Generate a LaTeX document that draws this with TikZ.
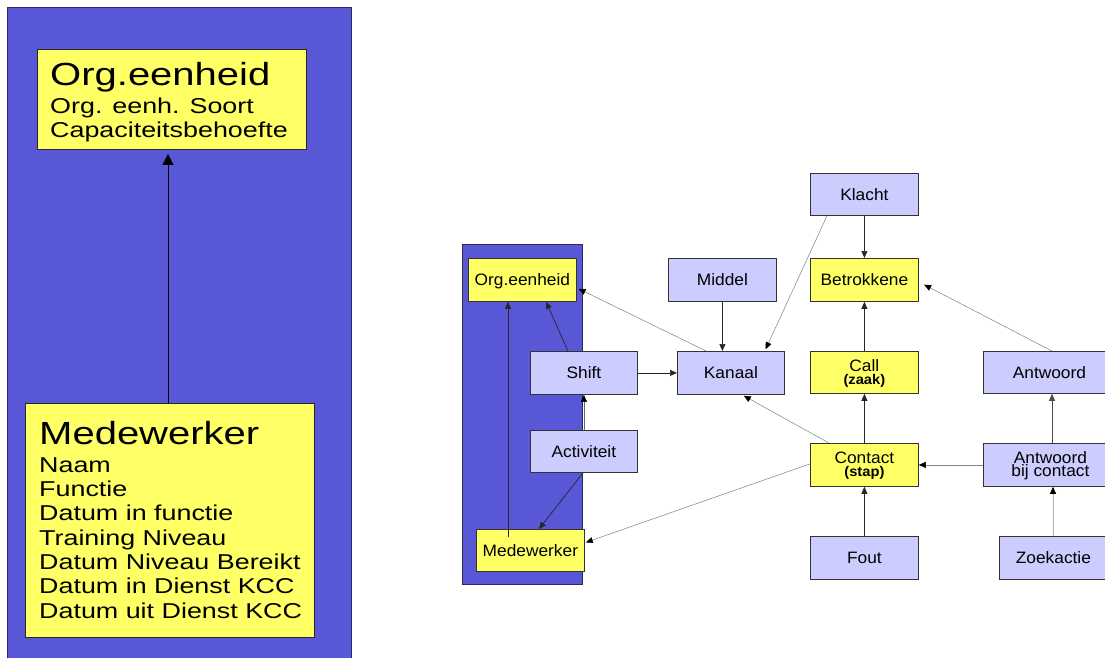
\documentclass[tikz,border=0pt]{standalone}
\usepackage{fontspec}
\usetikzlibrary{arrows.meta,calc}
\newfontfamily\wsans[FakeStretch=1.25]{Liberation Sans}
\newfontfamily\rsans[FakeStretch=1.05]{Liberation Sans}
\newcommand\subfont{\rsans\bfseries\fontsize{14}{12.5}\selectfont}
\definecolor{panelblue}{HTML}{5858D6}
\definecolor{paleyellow}{HTML}{FFFF66}
\definecolor{lavender}{HTML}{CCCCFF}
\definecolor{edge}{HTML}{333333}
\tikzset{
  panel/.style={fill=panelblue, draw=edge!80!blue, line width=0.8pt},
  bigbox/.style={fill=paleyellow, draw=black!85, line width=0.9pt, inner sep=0pt, anchor=north west},
  headtxt/.style={font=\wsans\fontsize{32}{32}\selectfont, anchor=base west, inner sep=0pt},
  attrtxt/.style={font=\wsans\fontsize{21.5}{21.5}\selectfont, anchor=base west, inner sep=0pt},
  entity/.style={draw=edge, line width=0.8pt, inner sep=0pt, anchor=north west,
    minimum width=108pt, minimum height=43pt,
    font=\rsans\fontsize{16.5}{13.5}\selectfont, align=center},
  oneline/.style={text height=11.8pt, text depth=0pt},
  twoline/.style={font=\rsans\fontsize{16.5}{#1}\selectfont, text height=23.5pt, text depth=0pt},
  lav/.style={entity, fill=lavender},
  yel/.style={entity, fill=paleyellow},
  link/.style={draw=black!85, line width=0.7pt, -{Triangle[length=7pt,width=6pt]}},
  faint/.style={draw=black!50, line width=0.5pt, -{Triangle[length=7pt,width=6pt,color=black]}},
  fainter/.style={draw=black!30, line width=0.6pt, -{Triangle[length=7pt,width=6pt,color=black]}},
  bigarrow/.style={draw=black, line width=0.9pt, -{Triangle[length=11pt,width=11pt]}}
}
\begin{document}
\begin{tikzpicture}[x=1pt, y=-1pt]
\useasboundingbox (0,0) rectangle (1105,657);
\clip (0,0) rectangle (1105,657);
\fill[white] (0,0) rectangle (1105,657);

% ---------- left: detailed entities ----------
\path[panel] (7,7) rectangle (351,680);

\node[bigbox, minimum width=269pt, minimum height=100pt] (orgbig) at (37,49) {};
\node[headtxt] (orgt1) at (50,85) {Org.eenheid};
\node[attrtxt] (orgt2) at (50,113) {Org. eenh. Soort};
\node[attrtxt] (orgt3) at (50,137) {Capaciteitsbehoefte};

\node[bigbox, minimum width=289pt, minimum height=234pt] (medbig) at (25,403) {};
\node[headtxt] (medt1) at (39,444) {Medewerker};
\node[attrtxt] (medt2) at (39,472) {Naam};
\node[attrtxt] (medt3) at (39,496) {Functie};
\node[attrtxt] (medt4) at (39,520) {Datum in functie};
\node[attrtxt] (medt5) at (39,545) {Training Niveau};
\node[attrtxt] (medt6) at (39,569) {Datum Niveau Bereikt};
\node[attrtxt] (medt7) at (39,593) {Datum in Dienst KCC};
\node[attrtxt] (medt8) at (39,618) {Datum uit Dienst KCC};

\coordinate (medtop) at ($(medbig.north west)+(143,0)$);
\draw[bigarrow, shorten >=4pt] (medtop) -- (medtop |- orgbig.south);

% ---------- right: overview ----------
\path[panel] (462,244) rectangle (582,584);

\node[yel, oneline] (orgr) at (468,258) {Org.eenheid};
\node[lav, oneline] (middel) at (668,258) {Middel};
\node[lav, oneline, minimum width=107pt] (shift) at (530,351) {Shift};
\node[lav, oneline, minimum width=107pt] (kanaal) at (677,351) {Kanaal};
\node[lav, oneline, minimum width=107pt, minimum height=42pt] (activ) at (530,430) {Activiteit};
\node[yel, oneline, minimum height=42pt] (medr) at (476,529) {Medewerker};
\node[lav, oneline, minimum height=42pt] (klacht) at (810,173) {Klacht};
\node[yel, oneline] (betrok) at (810,258) {Betrokkene};
\node[yel, twoline=12.5, text height=24pt, minimum height=42pt] (call) at (810,351) {Call\\{\subfont (zaak)}};
\node[lav, oneline, minimum width=132pt, minimum height=42pt] (antw) at (983,351) {Antwoord};
\node[yel, twoline=12.7] (contact) at (810,443) {Contact\\{\subfont (stap)}};
\node[lav, twoline=13.3, minimum width=134pt] (antbij) at (983,443) {Antwoord\\bij contact};
\node[lav, oneline] (fout) at (810,536) {Fout};
\node[lav, oneline] (zoek) at (999,536) {Zoekactie};

% connectors
\draw[link] (middel.south) -- (middel.south |- kanaal.north);
\draw[faint, shorten >=2pt] ($(klacht.south west)+(17,0)$) -- ($(kanaal.north east)+(-20,0)$);
\draw[link] (klacht.south) -- (betrok.north);
\draw[link] (call.north) -- (betrok.south);
\draw[faint, shorten >=6pt] ($(antw.north west)+(69,0)$) -- ($(betrok.east)+(0,2)$);
\draw[faint, shorten >=2pt] ($(kanaal.north west)+(29,0)$) -- ($(orgr.east)+(0,8)$);
\draw[link] ($(shift.north west)+(38,0)$) -- ($(orgr.south west)+(78,0)$);
\draw[link] (shift.east) -- (kanaal.west);
\draw[faint, draw=black!60] (activ.north) -- (shift.south);
\draw[link] ($(activ.south west)+(53,0)$) -- ($(medr.north west)+(63,0)$);
\draw[link] ($(medr.north west)+(32,8)$) -- ($(orgr.south west)+(40,0)$);
\draw[faint, shorten >=2pt] ($(contact.north west)+(19,0)$) -- ($(kanaal.south west)+(65,0)$);
\draw[faint] ($(contact.west)+(0,-1)$) -- ($(medr.east)+(1,-8)$);
\draw[link] (contact.north) -- (call.south);
\draw[link] (fout.north) -- (contact.south);
\draw[faint] (antbij.west) -- (contact.east);
\draw[link, draw=black!70] ($(antbij.north west)+(69,0)$) -- ($(antw.south west)+(69,0)$);
\draw[fainter] ($(zoek.north west)+(54,0)$) -- ($(antbij.south west)+(70,0)$);
\end{tikzpicture}
\end{document}
